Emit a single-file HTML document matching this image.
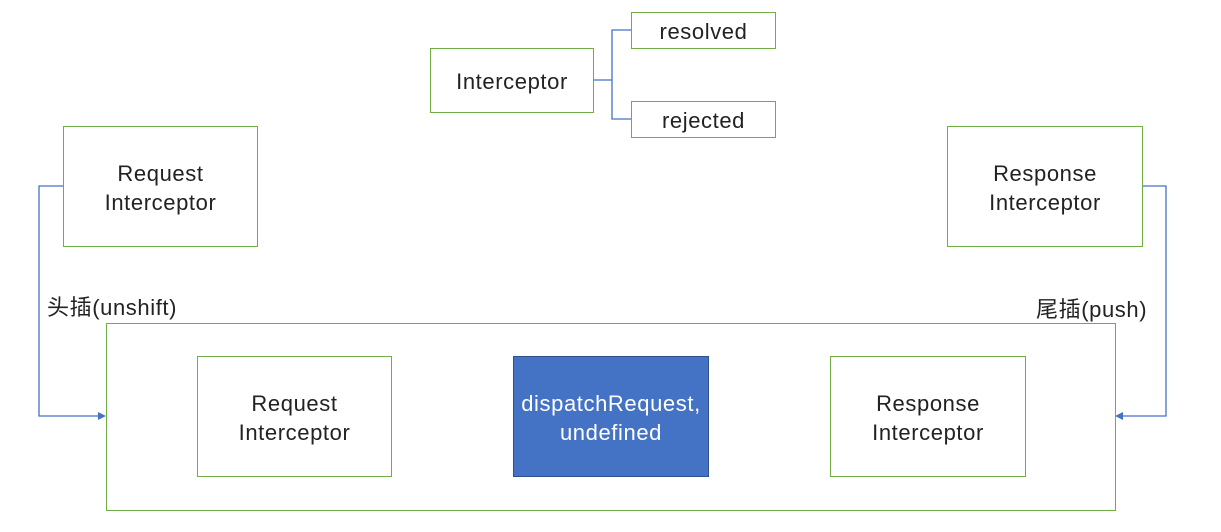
<!DOCTYPE html>
<html><head><meta charset="utf-8"><style>
html,body{margin:0;padding:0;background:#fff;width:1221px;height:532px;overflow:hidden}
.b{position:absolute;box-sizing:border-box;border:1px solid #70ad47;background:#fff;display:flex;align-items:center;justify-content:center;text-align:center;font-family:"Liberation Sans","Noto Sans CJK SC",sans-serif;font-size:22px;letter-spacing:0.6px;line-height:29px;color:#222;padding-top:2px}
.t{position:absolute;font-family:"Liberation Sans","Noto Sans CJK SC",sans-serif;font-size:22px;letter-spacing:0.6px;color:#222;white-space:nowrap}
</style></head><body>
<svg width="1221" height="532" style="position:absolute;left:0;top:0">
<g stroke="#4472c4" stroke-width="1.3" fill="none">
<polyline points="593,80 612,80"/>
<polyline points="631,30 612,30 612,119 631,119"/>
<polyline points="63,186 39,186 39,416 100,416"/>
<polyline points="1142,186 1166,186 1166,416 1121,416"/>
</g>
<polygon points="106,416 98,412 98,420" fill="#4472c4"/>
<polygon points="1115,416 1123,412 1123,420" fill="#4472c4"/>
</svg>
<div class="b" style="left:430px;top:48px;width:164px;height:65px">Interceptor</div>
<div class="b" style="left:631px;top:12px;width:145px;height:37px">resolved</div>
<div class="b" style="left:631px;top:101px;width:145px;height:37px">rejected</div>
<div class="b" style="left:63px;top:126px;width:195px;height:121px">Request<br>Interceptor</div>
<div class="b" style="left:947px;top:126px;width:196px;height:121px">Response<br>Interceptor</div>
<div class="b" style="left:106px;top:323px;width:1010px;height:188px"></div>
<div class="b" style="left:197px;top:356px;width:195px;height:121px">Request<br>Interceptor</div>
<div class="b" style="left:513px;top:356px;width:196px;height:121px;background:#4472c4;border-color:#2f528f;color:#fff">dispatchRequest,<br>undefined</div>
<div class="b" style="left:830px;top:356px;width:196px;height:121px">Response<br>Interceptor</div>
<div class="t" style="left:47px;top:290px">头插(unshift)</div>
<div class="t" style="left:1036px;top:292px">尾插(push)</div>
</body></html>
